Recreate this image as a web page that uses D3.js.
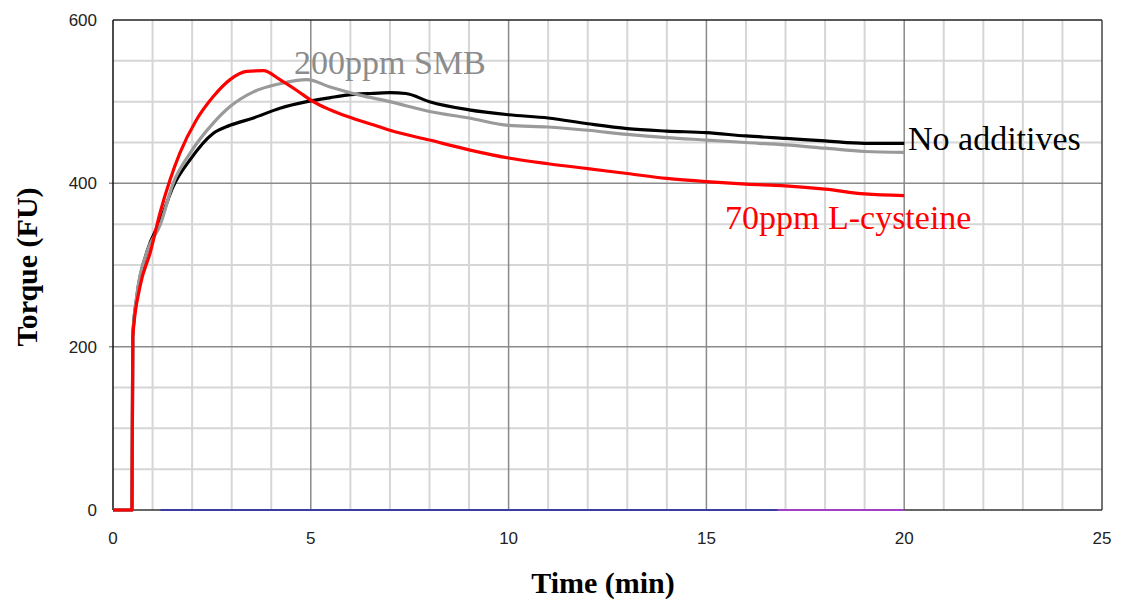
<!doctype html>
<html>
<head>
  <meta charset="utf-8">
  <title>Torque vs Time</title>
  <script src="https://d3js.org/d3.v7.min.js"></script>
  <style>
    body { margin:0; background:#fff; }
    svg { display:block; }
    .tick-label { font-family:"Liberation Sans", Arial, sans-serif; font-size:17px; fill:#222; }
    .axis-title { font-family:"Liberation Serif", "Times New Roman", serif; font-size:30px; font-weight:bold; fill:#000; }
    .note { font-family:"Liberation Serif", "Times New Roman", serif; font-size:34px; }
  </style>
</head>
<body>
  <svg id="chart" width="1121" height="601"></svg>

  <script>
    // x/y tick values
    const xTicks = [0, 5, 10, 15, 20, 25];
    const yTicks = [0, 200, 400, 600];

    // No additives (black)
    const blackTime   = [0, 0.48, 0.5, 0.6, 0.85, 1.2, 1.52, 1.95, 2.53, 2.96, 3.55, 4.22, 4.9, 5.5, 5.91, 6.5, 7.0, 7.4, 8.0, 9.0, 10.0, 11.0, 12.0, 13.0, 14.0, 15.0, 16.0, 17.0, 18.0, 19.0, 20.0];
    const blackTorque = [0, 0, 212, 260, 315, 355, 396, 429, 461, 471, 480, 492, 500, 505, 508, 510, 511, 510, 500, 490, 484, 480, 473, 467, 464, 462, 458, 455, 452, 449, 449];

    // 200ppm SMB (gray)
    const grayTime   = [0, 0.48, 0.5, 0.6, 0.85, 1.2, 1.52, 1.95, 2.54, 2.96, 3.55, 4.22, 4.9, 5.49, 6.24, 7.0, 8.0, 9.0, 10.0, 11.0, 12.0, 13.0, 14.0, 15.0, 16.0, 17.0, 18.0, 19.0, 20.0];
    const grayTorque = [0, 0, 212, 262, 315, 350, 400, 437, 474, 494, 512, 522, 527, 518, 508, 500, 488, 480, 471, 469, 465, 460, 456, 453, 450, 447, 443, 439, 438];

    // 70ppm L-cysteine (red)
    const redTime   = [0, 0.48, 0.5, 0.68, 0.94, 1.19, 1.44, 1.69, 2.1, 2.53, 2.96, 3.38, 3.8, 4.22, 4.64, 5.06, 5.49, 5.91, 6.75, 7.0, 8.0, 9.0, 10.0, 11.0, 12.0, 13.0, 14.0, 15.0, 16.0, 17.0, 18.0, 19.0, 20.0];
    const redTorque = [0, 0, 212, 273, 315, 364, 404, 437, 477, 506, 527, 537, 538, 527, 514, 500, 490, 482, 469, 465, 453, 441, 431, 424, 418, 412, 406, 402, 399, 397, 393, 387, 385];

    // baseline traces along zero
    const baseStart = [1.2, 16.8];
    const baseEnd   = [16.8, 20];
    const baseColor = ["#3a3aa8", "#a040c8"];

    const svg = d3.select("#chart");
    const plotL = 113, plotR = 1102, plotT = 20, plotB = 510;

    const x = d3.scaleLinear().domain([0, 25]).range([plotL, plotR]);
    const y = d3.scaleLinear().domain([0, 600]).range([plotB, plotT]);

    // grid: minor first, then major
    const grid = svg.append("g");
    grid.selectAll(".vminor").data(d3.range(1, 25).filter(d => d % 5 !== 0))
      .enter().append("line")
      .attr("x1", d => x(d)).attr("x2", d => x(d))
      .attr("y1", plotT).attr("y2", plotB)
      .attr("stroke", "#d6d6d6").attr("stroke-width", 2);
    grid.selectAll(".hminor").data(d3.range(50, 600, 50).filter(d => d % 200 !== 0))
      .enter().append("line")
      .attr("x1", plotL).attr("x2", plotR)
      .attr("y1", d => y(d)).attr("y2", d => y(d))
      .attr("stroke", "#d6d6d6").attr("stroke-width", 2);
    grid.selectAll(".vmajor").data([5, 10, 15, 20])
      .enter().append("line")
      .attr("x1", d => x(d)).attr("x2", d => x(d))
      .attr("y1", plotT).attr("y2", plotB)
      .attr("stroke", "#8a8a8a").attr("stroke-width", 1.5);
    grid.selectAll(".hmajor").data([200, 400])
      .enter().append("line")
      .attr("x1", plotL - 4).attr("x2", plotR)
      .attr("y1", d => y(d)).attr("y2", d => y(d))
      .attr("stroke", "#8a8a8a").attr("stroke-width", 1.5);

    // frame
    svg.append("line").attr("x1", plotL).attr("x2", plotR).attr("y1", plotT).attr("y2", plotT)
      .attr("stroke", "#222").attr("stroke-width", 1.5);
    svg.append("line").attr("x1", plotR).attr("x2", plotR).attr("y1", plotT).attr("y2", plotB)
      .attr("stroke", "#444").attr("stroke-width", 1.5);
    svg.append("line").attr("x1", plotL).attr("x2", plotR).attr("y1", plotB).attr("y2", plotB)
      .attr("stroke", "#333").attr("stroke-width", 1.5);
    svg.append("line").attr("x1", plotL).attr("x2", plotL).attr("y1", plotT).attr("y2", plotB)
      .attr("stroke", "#111").attr("stroke-width", 1.5);

    // baseline traces
    baseStart.forEach((s, i) => {
      svg.append("line")
        .attr("x1", x(s)).attr("x2", x(baseEnd[i]))
        .attr("y1", y(0)).attr("y2", y(0))
        .attr("stroke", baseColor[i]).attr("stroke-width", 2);
    });

    // tick labels
    svg.selectAll(".xt").data(xTicks).enter().append("text")
      .attr("class", "tick-label")
      .attr("x", d => x(d)).attr("y", 544)
      .attr("text-anchor", "middle")
      .text(d => d);
    svg.selectAll(".yt").data(yTicks).enter().append("text")
      .attr("class", "tick-label")
      .attr("x", 97).attr("y", d => y(d) + 6)
      .attr("text-anchor", "end")
      .text(d => d);

    // curves
    const line = d3.line().x(d => x(d[0])).y(d => y(d[1])).curve(d3.curveMonotoneX);
    const series = [
      { t: blackTime, v: blackTorque, color: "#000000" },
      { t: grayTime,  v: grayTorque,  color: "#9a9a9a" },
      { t: redTime,   v: redTorque,   color: "#ff0000" }
    ];
    series.forEach(s => {
      svg.append("path")
        .datum(d3.zip(s.t, s.v))
        .attr("d", line)
        .attr("fill", "none")
        .attr("stroke", s.color)
        .attr("stroke-width", 3.2)
        .attr("stroke-linejoin", "round");
    });

    // annotations
    svg.append("text").attr("class", "note").attr("x", 294).attr("y", 74)
      .attr("fill", "#8c8c8c").text("200ppm SMB");
    svg.append("text").attr("class", "note").attr("x", 908).attr("y", 150)
      .attr("fill", "#000").text("No additives");
    svg.append("text").attr("class", "note").attr("x", 725).attr("y", 229)
      .attr("fill", "#ff0000").text("70ppm L-cysteine");

    // axis titles
    svg.append("text").attr("class", "axis-title")
      .attr("x", 603).attr("y", 593)
      .attr("text-anchor", "middle")
      .text("Time (min)");
    svg.append("text").attr("class", "axis-title")
      .attr("transform", "translate(37,267) rotate(-90)")
      .attr("text-anchor", "middle")
      .text("Torque (FU)");
  </script>
</body>
</html>
